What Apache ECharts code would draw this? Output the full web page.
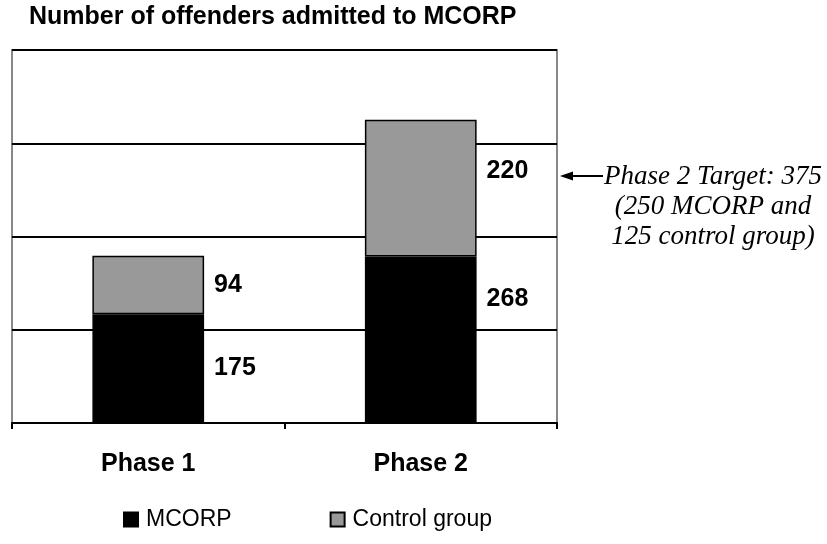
<!DOCTYPE html>
<html>
<head>
<meta charset="utf-8">
<script src="https://cdn.jsdelivr.net/npm/echarts@6/dist/echarts.min.js"></script>
<style>
  html, body { margin: 0; padding: 0; background: #fff; }
  #chart { width: 827px; height: 544px; }
</style>
</head>
<body>
<div id="chart"></div>
<script>
// data
const categories = ["Phase 1", "Phase 2"];
const mcorpValues = [175, 268];
const controlValues = [94, 220];
const seriesNames = ["MCORP", "Control group"];
const noteLines = ["Phase 2 Target: 375", "(250 MCORP and", "125 control group)"];

// the Phase 2 labels sit higher than the middle of their segment
const phase2Shift = { mcorp: -41, control: -17 };

const chart = echarts.init(document.getElementById("chart"));

const labelStyle = {
  show: true,
  position: "right",
  distance: 10,
  color: "#000",
  fontFamily: "Liberation Sans, Arial",
  fontWeight: "bold",
  fontSize: 25,
};

function withShift(values, dy) {
  return values.map((v, i) => (i === 1 ? { value: v, label: { offset: [0, dy] } } : v));
}

chart.setOption({
  animation: false,
  graphic: [
    {
      type: "text",
      left: 29,
      top: 5,
      style: {
        text: "Number of offenders admitted to MCORP",
        fontFamily: "Liberation Sans, Arial",
        fontWeight: "bold",
        fontSize: 25,
        fill: "#000",
      },
    },
    // arrow pointing at the chart
    {
      type: "line",
      shape: { x1: 570, y1: 176, x2: 603, y2: 176 },
      style: { stroke: "#000", lineWidth: 2 },
    },
    {
      type: "polygon",
      shape: { points: [[560, 176], [573, 171.5], [573, 180.5]] },
      style: { fill: "#000" },
    },
    {
      type: "text",
      x: 713,
      y: 162,
      style: {
        text: noteLines.join("\n"),
        align: "center",
        verticalAlign: "top",
        lineHeight: 30,
        fontFamily: "Liberation Serif, Times New Roman",
        fontStyle: "italic",
        fontSize: 27,
        fill: "#000",
      },
    },
  ],
  legend: {
    left: 118,
    top: 503,
    itemWidth: 14,
    itemHeight: 14,
    itemGap: 98,
    icon: "rect",
    textStyle: {
      fontFamily: "Liberation Sans, Arial",
      fontSize: 23,
      color: "#000",
      padding: [0, 0, 0, 3],
    },
    data: seriesNames,
  },
  grid: {
    left: 12,
    top: 50,
    right: 270,
    bottom: 121,
    show: true,
    borderColor: "#888",
    borderWidth: 2,
  },
  xAxis: {
    type: "category",
    data: categories,
    axisLine: { lineStyle: { color: "#000", width: 2 } },
    axisTick: { show: true, length: 6, lineStyle: { color: "#000", width: 2 } },
    axisLabel: {
      margin: 29,
      color: "#000",
      fontFamily: "Liberation Sans, Arial",
      fontWeight: "bold",
      fontSize: 25,
    },
  },
  yAxis: {
    type: "value",
    min: 0,
    max: 600,
    interval: 150,
    axisLine: { show: false },
    axisTick: { show: false },
    axisLabel: { show: false },
    splitLine: { lineStyle: { color: "#000", width: 2 } },
  },
  series: [
    {
      name: seriesNames[0],
      type: "bar",
      stack: "total",
      barWidth: "41%",
      data: withShift(mcorpValues, phase2Shift.mcorp),
      itemStyle: { color: "#000", borderColor: "#000", borderWidth: 1.5 },
      label: labelStyle,
    },
    {
      name: seriesNames[1],
      type: "bar",
      stack: "total",
      barWidth: "41%",
      data: withShift(controlValues, phase2Shift.control),
      itemStyle: { color: "#999", borderColor: "#000", borderWidth: 1.5 },
      label: labelStyle,
    },
  ],
});
</script>
</body>
</html>
